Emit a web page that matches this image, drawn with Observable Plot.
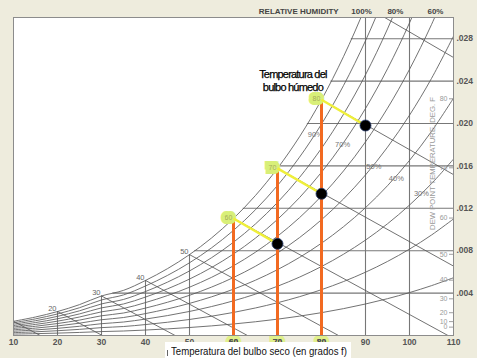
<!DOCTYPE html>
<html><head><meta charset="utf-8">
<script src="https://cdn.jsdelivr.net/npm/d3@7"></script>
<script src="https://cdn.jsdelivr.net/npm/@observablehq/plot@0.6"></script>
<style>
body{margin:0;background:#eeecdd;}
#wrap{position:relative;width:477px;height:358px;overflow:hidden;background:#eeecdd;}
#cap{position:absolute;left:165px;top:342px;width:186px;height:16px;background:#fff;overflow:hidden;white-space:nowrap;}
#bar{position:absolute;left:2px;top:8px;width:1px;height:6px;background:#666;}
#captext{position:absolute;left:6px;top:3px;font-family:"Liberation Sans Narrow","Liberation Sans",Arial,sans-serif;font-size:11px;line-height:13px;color:#111;transform-origin:0 0;}
</style></head><body>
<div id="wrap"><div id="chart"></div><div id="cap"><span id="bar"></span><span id="captext">Temperatura del bulbo seco (en grados f)</span></div></div>
<script>
// ---- data ----
const satTemps = [10,15,20,25,30,35,40,45,50,55,60,65,70,75,80,85,90,95,100,105,110];
const satPressure = [0.0316,0.0411,0.0532,0.0685,0.0876,0.0999,0.1217,0.1475,0.1781,0.2141,0.2563,0.3057,0.3633,0.4300,0.5073,0.5964,0.6988,0.8162,0.9503,1.1030,1.2763];
const atmPressure = 14.696;
const rhLevels = [10,20,30,40,50,60,70,80,90,100];
const wetBulbTemps = [10,20,30,40,50,60,70,80,90];
const dryBulbTicks = [10,20,30,40,50,60,70,80,90,100,110];
const gridTemps = [20,30,40,50,60,70,80,90,100];
const humidityTicks = [0.004,0.008,0.012,0.016,0.020,0.024,0.028];
const dewPointTicks = [0,10,20,30,40,50,60,70,80];
const dewPointW = [0.00079,0.00131,0.00215,0.00346,0.00522,0.00766,0.01108,0.01582,0.02233];
const wbPlainLabels = [20,30,40,50];
const processWetBulb = [60,70,80];
const processDryBulb = [70,80,90];
const processW = [0.00865,0.01337,0.01981];
const rhLabels = ["90%","70%","50%","40%","30%"];
const rhLabelT = [78.6,84.8,91.9,97.0,102.7];
const rhLabelW = [0.01896,0.01799,0.01594,0.01484,0.01342];
const rhTopLabels = ["100%","80%","60%"];
const rhTopT = [89.1,96.8,105.9];
const titleRH = "RELATIVE HUMIDITY";
const titleWB = "Temperatura del\nbulbo húmedo";
const titleDP = "DEW POINT TEMPERATURE, DEG. F";

// ---- derived ----
const ratio = p => 0.622 * p / (atmPressure - p);
const satW = satPressure.map(ratio);
const satAt = d3.scaleLinear(satTemps, satW);
const dewAt = d3.scaleLinear(satW, satTemps);
const rhRows = rhLevels.flatMap(rh => satTemps.map((t, i) => ({rh, t, W: ratio(rh / 100 * satPressure[i])})));
const wbRows = wetBulbTemps.map(tw => {
  const ws = satAt(tw), k = 1093 - 0.556 * tw;
  const Wat = t => (k * ws - 0.24 * (t - tw)) / (1093 + 0.444 * t - tw);
  let tEnd = Math.min(110, tw + k * ws / 0.24);
  return {tw, ws, tEnd, wEnd: Math.max(0, Wat(tEnd))};
});
const procRows = processWetBulb.map((tw, i) => ({tw, ws: satAt(tw), td: processDryBulb[i], W: processW[i]}));
const lineCol = "#595959", gridCol = "#777";
const FF = "Liberation Sans, Arial, sans-serif";

const chart = Plot.plot({
  width: 477, height: 358,
  marginLeft: 13, marginRight: 24, marginTop: 17, marginBottom: 23,
  style: {background: "transparent", fontFamily: FF},
  x: {domain: [10, 110], label: null},
  y: {domain: [0, 0.030], label: null},
  marks: [
    Plot.frame({fill: "white"}),
    Plot.ruleX(gridTemps, {x: d => d, y1: 0, y2: d => Math.min(satAt(d), 0.030), stroke: gridCol, strokeWidth: 1.1}),
    Plot.ruleY(humidityTicks, {y: d => d, x1: d => dewAt(d), x2: 110, stroke: gridCol, strokeWidth: 1.1}),
    Plot.line(rhRows, {x: "t", y: "W", z: "rh", curve: "catmull-rom", stroke: lineCol, strokeWidth: 0.85, clip: true}),
    Plot.link(wbRows, {x1: "tw", y1: "ws", x2: "tEnd", y2: "wEnd", stroke: lineCol, strokeWidth: 0.85, clip: true}),
    Plot.ruleY(dewPointW, {y: d => d, x1: 110, x2: 110, insetLeft: -4, stroke: "#888", strokeWidth: 0.8}),
    Plot.text(dewPointTicks, {x: 110, y: (d, i) => dewPointW[i], text: d => String(d), textAnchor: "end", dx: -6, fontSize: 7, fill: "#999"}),
    Plot.text([titleDP], {x: 105.2, y: 0.01623, text: d => d, rotate: -90, fontSize: 7.7, fill: "#9a9a9a"}),
    Plot.text(rhLabels, {x: (d, i) => rhLabelT[i], y: (d, i) => rhLabelW[i], text: d => d, fontSize: 7.5, fill: "#777"}),
    Plot.text(wbPlainLabels, {x: d => d, y: d => satAt(d), text: d => String(d), textAnchor: "end", dx: -1, dy: -3, fontSize: 7.5, fill: "#666"}),
    Plot.ruleX(processWetBulb, {x: d => d, y1: 0, y2: d => satAt(d), stroke: "#f26a21", strokeWidth: 3}),
    Plot.text(processWetBulb, {x: d => d, y: d => satAt(d), text: d => String(d), dx: -5, dy: -1, fontSize: 7, fill: "#a5ad5a", stroke: "#d8ef78", strokeWidth: 8, strokeLinejoin: "miter"}),
    Plot.link(procRows, {x1: "tw", y1: "ws", x2: "td", y2: "W", stroke: "#efef3a", strokeWidth: 2.5}),
    Plot.dot(procRows, {x: "td", y: "W", r: 5.5, fill: "#000", stroke: "#23386b", strokeWidth: 0.8}),
    Plot.text([titleWB], {x: 73.5, y: 0.0241, text: d => d, fontSize: 11, lineHeight: 1.2, fill: "#000", stroke: "#000", strokeWidth: 0.25}),
    Plot.text(processWetBulb, {x: d => d, y: 0, text: d => String(d), dy: 3, lineAnchor: "top", fontSize: 8.5, fontWeight: "bold", fill: "#555", stroke: "#e0f08a", strokeWidth: 7, strokeLinejoin: "miter"}),
    Plot.axisX({ticks: dryBulbTicks, tickSize: 0, tickPadding: 3, fontSize: 8.5, fontWeight: "bold", color: "#555"}),
    Plot.axisY({anchor: "right", ticks: humidityTicks, tickFormat: d => d.toFixed(3).slice(1), tickSize: 0, tickPadding: 3, fontSize: 8.5, fontWeight: "bold", color: "#555"}),
    Plot.text(rhTopLabels, {x: (d, i) => rhTopT[i], y: 0.030, text: d => d, dy: -6, fontSize: 8, fontWeight: "bold", fill: "#444"}),
    Plot.text([titleRH], {x: 83.9, y: 0.030, text: d => d, dy: -6, textAnchor: "end", fontSize: 8, fontWeight: "bold", fill: "#444"}),
    Plot.frame({stroke: "#8c8c8c"})
  ]
});
document.getElementById("chart").appendChild(chart);
// tighten the annotation text
chart.querySelectorAll("text").forEach(t => {
  if (t.textContent.startsWith("Temperatura")) t.style.letterSpacing = "-0.8px";
});
const ct = document.getElementById("captext");
const wdt = ct.getBoundingClientRect().width;
ct.style.transform = `scaleX(${176 / wdt})`;
</script>
</body></html>
